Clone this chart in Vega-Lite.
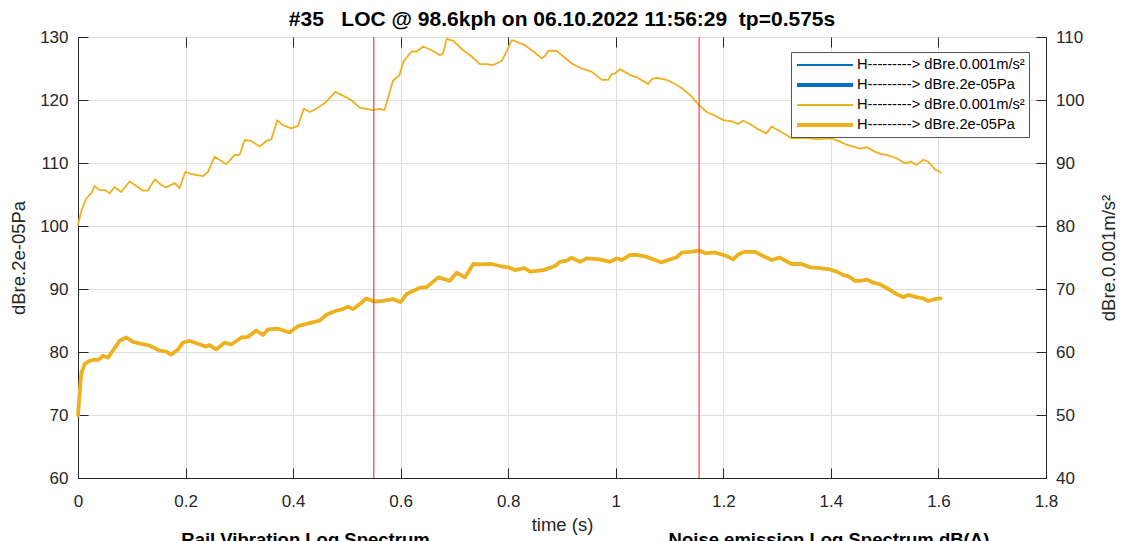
{
  "$schema": "https://vega.github.io/schema/vega-lite/v6.json",
  "width": 968,
  "height": 441,
  "autosize": {"type": "none"},
  "padding": {"left": 78, "top": 37, "right": 78, "bottom": 63},
  "background": "white",
  "title": {
    "text": "#35\u00a0\u00a0\u00a0LOC @ 98.6kph on 06.10.2022 11:56:29\u00a0\u00a0tp=0.575s",
    "font": "Liberation Sans",
    "fontSize": 21,
    "fontWeight": "bold",
    "color": "#000000",
    "anchor": "middle",
    "offset": -2
  },
  "config": {
    "font": "Liberation Sans",
    "view": {"stroke": "#262626", "strokeWidth": 1},
    "axis": {
      "labelFont": "Liberation Sans",
      "labelFontSize": 17,
      "labelColor": "#262626",
      "titleFont": "Liberation Sans",
      "titleFontSize": 18.5,
      "titleFontWeight": "normal",
      "titleColor": "#262626",
      "domainColor": "#262626",
      "tickColor": "#262626",
      "tickWidth": 1,
      "gridColor": "#dedede",
      "gridWidth": 1,
      "labelFlush": false,
      "labelOverlap": false
    }
  },
  "datasets": {
    "thin": [
      {"s":"y1","t":0,"v":80.2},{"s":"y1","t":0.006,"v":82.3},{"s":"y1","t":0.0155,"v":84.4},{"s":"y1","t":0.0248,"v":85.2},{"s":"y1","t":0.031,"v":86.35},{"s":"y1","t":0.04,"v":85.7},{"s":"y1","t":0.0496,"v":85.7},{"s":"y1","t":0.059,"v":85.2},{"s":"y1","t":0.068,"v":86.2},{"s":"y1","t":0.0806,"v":85.4},{"s":"y1","t":0.096,"v":87.1},{"s":"y1","t":0.1085,"v":86.35},{"s":"y1","t":0.121,"v":85.6},{"s":"y1","t":0.13,"v":85.6},{"s":"y1","t":0.1426,"v":87.4},{"s":"y1","t":0.155,"v":86.5},{"s":"y1","t":0.164,"v":86.1},{"s":"y1","t":0.18,"v":86.8},{"s":"y1","t":0.189,"v":86.0},{"s":"y1","t":0.1995,"v":88.6},{"s":"y1","t":0.2107,"v":88.25},{"s":"y1","t":0.2324,"v":87.9},{"s":"y1","t":0.2417,"v":88.6},{"s":"y1","t":0.254,"v":91.0},{"s":"y1","t":0.2758,"v":89.8},{"s":"y1","t":0.2913,"v":91.3},{"s":"y1","t":0.3006,"v":91.3},{"s":"y1","t":0.31,"v":93.65},{"s":"y1","t":0.322,"v":93.5},{"s":"y1","t":0.338,"v":92.6},{"s":"y1","t":0.35,"v":93.5},{"s":"y1","t":0.3595,"v":93.75},{"s":"y1","t":0.3706,"v":96.8},{"s":"y1","t":0.381,"v":96.0},{"s":"y1","t":0.397,"v":95.5},{"s":"y1","t":0.409,"v":95.9},{"s":"y1","t":0.42,"v":98.6},{"s":"y1","t":0.431,"v":98.1},{"s":"y1","t":0.441,"v":98.5},{"s":"y1","t":0.4617,"v":99.7},{"s":"y1","t":0.4785,"v":101.3},{"s":"y1","t":0.4927,"v":100.7},{"s":"y1","t":0.508,"v":100.0},{"s":"y1","t":0.5238,"v":98.8},{"s":"y1","t":0.5485,"v":98.4},{"s":"y1","t":0.561,"v":98.6},{"s":"y1","t":0.57,"v":98.4},{"s":"y1","t":0.5857,"v":103.05},{"s":"y1","t":0.598,"v":104.0},{"s":"y1","t":0.605,"v":106.1},{"s":"y1","t":0.6205,"v":107.7},{"s":"y1","t":0.6298,"v":107.7},{"s":"y1","t":0.642,"v":108.5},{"s":"y1","t":0.6577,"v":107.9},{"s":"y1","t":0.673,"v":107.1},{"s":"y1","t":0.679,"v":107.4},{"s":"y1","t":0.6855,"v":109.7},{"s":"y1","t":0.698,"v":109.4},{"s":"y1","t":0.7164,"v":107.9},{"s":"y1","t":0.732,"v":106.9},{"s":"y1","t":0.7475,"v":105.7},{"s":"y1","t":0.76,"v":105.7},{"s":"y1","t":0.772,"v":105.55},{"s":"y1","t":0.788,"v":106.2},{"s":"y1","t":0.797,"v":107.7},{"s":"y1","t":0.8064,"v":109.5},{"s":"y1","t":0.8157,"v":109.25},{"s":"y1","t":0.831,"v":108.7},{"s":"y1","t":0.8466,"v":107.7},{"s":"y1","t":0.8622,"v":106.6},{"s":"y1","t":0.8696,"v":107.1},{"s":"y1","t":0.8745,"v":107.8},{"s":"y1","t":0.89,"v":107.8},{"s":"y1","t":0.9024,"v":106.9},{"s":"y1","t":0.918,"v":105.8},{"s":"y1","t":0.9366,"v":105.0},{"s":"y1","t":0.955,"v":104.5},{"s":"y1","t":0.9738,"v":103.2},{"s":"y1","t":0.986,"v":103.2},{"s":"y1","t":0.9923,"v":104.1},{"s":"y1","t":0.9985,"v":104.2},{"s":"y1","t":1.008,"v":104.9},{"s":"y1","t":1.026,"v":104.0},{"s":"y1","t":1.039,"v":103.6},{"s":"y1","t":1.0604,"v":102.5},{"s":"y1","t":1.0667,"v":103.3},{"s":"y1","t":1.076,"v":103.5},{"s":"y1","t":1.0946,"v":103.2},{"s":"y1","t":1.107,"v":102.7},{"s":"y1","t":1.1225,"v":101.9},{"s":"y1","t":1.138,"v":100.8},{"s":"y1","t":1.155,"v":99.2},{"s":"y1","t":1.169,"v":98.1},{"s":"y1","t":1.1845,"v":97.5},{"s":"y1","t":1.2,"v":96.8},{"s":"y1","t":1.2185,"v":96.55},{"s":"y1","t":1.2277,"v":96.2},{"s":"y1","t":1.237,"v":96.7},{"s":"y1","t":1.2495,"v":96.2},{"s":"y1","t":1.262,"v":95.5},{"s":"y1","t":1.28,"v":94.7},{"s":"y1","t":1.2898,"v":95.8},{"s":"y1","t":1.302,"v":95.2},{"s":"y1","t":1.318,"v":94.4},{"s":"y1","t":1.327,"v":93.9},{"s":"y1","t":1.35,"v":94.0},{"s":"y1","t":1.375,"v":93.8},{"s":"y1","t":1.4014,"v":93.9},{"s":"y1","t":1.417,"v":93.4},{"s":"y1","t":1.429,"v":92.9},{"s":"y1","t":1.4416,"v":92.6},{"s":"y1","t":1.454,"v":92.3},{"s":"y1","t":1.4666,"v":92.5},{"s":"y1","t":1.482,"v":91.8},{"s":"y1","t":1.494,"v":91.4},{"s":"y1","t":1.5037,"v":91.3},{"s":"y1","t":1.522,"v":90.75},{"s":"y1","t":1.5377,"v":89.95},{"s":"y1","t":1.55,"v":90.2},{"s":"y1","t":1.559,"v":89.7},{"s":"y1","t":1.572,"v":90.5},{"s":"y1","t":1.581,"v":90.2},{"s":"y1","t":1.5935,"v":89.0},{"s":"y1","t":1.604,"v":88.5}
    ],
    "thick": [
      {"s":"y2","t":0,"v":70.0},{"s":"y2","t":0.003,"v":73.4},{"s":"y2","t":0.006,"v":76.6},{"s":"y2","t":0.0124,"v":78.1},{"s":"y2","t":0.0217,"v":78.6},{"s":"y2","t":0.031,"v":78.8},{"s":"y2","t":0.0372,"v":78.7},{"s":"y2","t":0.0465,"v":79.4},{"s":"y2","t":0.0558,"v":79.1},{"s":"y2","t":0.068,"v":80.6},{"s":"y2","t":0.0775,"v":81.8},{"s":"y2","t":0.0899,"v":82.3},{"s":"y2","t":0.1023,"v":81.6},{"s":"y2","t":0.1178,"v":81.3},{"s":"y2","t":0.1333,"v":81.0},{"s":"y2","t":0.152,"v":80.2},{"s":"y2","t":0.164,"v":80.05},{"s":"y2","t":0.1735,"v":79.6},{"s":"y2","t":0.186,"v":80.4},{"s":"y2","t":0.195,"v":81.5},{"s":"y2","t":0.2077,"v":81.75},{"s":"y2","t":0.223,"v":81.3},{"s":"y2","t":0.2386,"v":80.85},{"s":"y2","t":0.2448,"v":81.1},{"s":"y2","t":0.257,"v":80.4},{"s":"y2","t":0.2727,"v":81.5},{"s":"y2","t":0.285,"v":81.2},{"s":"y2","t":0.3037,"v":82.3},{"s":"y2","t":0.316,"v":82.4},{"s":"y2","t":0.3316,"v":83.4},{"s":"y2","t":0.3441,"v":82.7},{"s":"y2","t":0.3534,"v":83.6},{"s":"y2","t":0.372,"v":83.7},{"s":"y2","t":0.3936,"v":83.1},{"s":"y2","t":0.409,"v":84.1},{"s":"y2","t":0.434,"v":84.65},{"s":"y2","t":0.4494,"v":84.97},{"s":"y2","t":0.4617,"v":85.9},{"s":"y2","t":0.48,"v":86.55},{"s":"y2","t":0.4927,"v":86.8},{"s":"y2","t":0.502,"v":87.2},{"s":"y2","t":0.5113,"v":86.8},{"s":"y2","t":0.5238,"v":87.6},{"s":"y2","t":0.536,"v":88.5},{"s":"y2","t":0.5517,"v":88.0},{"s":"y2","t":0.567,"v":88.1},{"s":"y2","t":0.5857,"v":88.4},{"s":"y2","t":0.6,"v":87.9},{"s":"y2","t":0.611,"v":89.2},{"s":"y2","t":0.636,"v":90.2},{"s":"y2","t":0.6484,"v":90.3},{"s":"y2","t":0.67,"v":91.85},{"s":"y2","t":0.6917,"v":91.3},{"s":"y2","t":0.704,"v":92.6},{"s":"y2","t":0.7196,"v":91.85},{"s":"y2","t":0.735,"v":93.97},{"s":"y2","t":0.7475,"v":93.9},{"s":"y2","t":0.769,"v":93.97},{"s":"y2","t":0.7847,"v":93.65},{"s":"y2","t":0.8,"v":93.44},{"s":"y2","t":0.8126,"v":93.0},{"s":"y2","t":0.831,"v":93.3},{"s":"y2","t":0.8405,"v":92.75},{"s":"y2","t":0.8652,"v":93.0},{"s":"y2","t":0.887,"v":93.65},{"s":"y2","t":0.896,"v":94.3},{"s":"y2","t":0.9087,"v":94.5},{"s":"y2","t":0.918,"v":94.97},{"s":"y2","t":0.9334,"v":94.3},{"s":"y2","t":0.946,"v":94.87},{"s":"y2","t":0.9706,"v":94.7},{"s":"y2","t":0.989,"v":94.3},{"s":"y2","t":1.0017,"v":94.87},{"s":"y2","t":1.011,"v":94.6},{"s":"y2","t":1.0264,"v":95.4},{"s":"y2","t":1.039,"v":95.4},{"s":"y2","t":1.0574,"v":95.1},{"s":"y2","t":1.073,"v":94.6},{"s":"y2","t":1.085,"v":94.2},{"s":"y2","t":1.1008,"v":94.7},{"s":"y2","t":1.113,"v":95.0},{"s":"y2","t":1.1225,"v":95.76},{"s":"y2","t":1.138,"v":95.9},{"s":"y2","t":1.155,"v":96.1},{"s":"y2","t":1.166,"v":95.67},{"s":"y2","t":1.1845,"v":95.8},{"s":"y2","t":1.2,"v":95.4},{"s":"y2","t":1.206,"v":95.24},{"s":"y2","t":1.2185,"v":94.7},{"s":"y2","t":1.2277,"v":95.5},{"s":"y2","t":1.24,"v":95.9},{"s":"y2","t":1.2589,"v":95.9},{"s":"y2","t":1.274,"v":95.24},{"s":"y2","t":1.2898,"v":94.6},{"s":"y2","t":1.305,"v":94.97},{"s":"y2","t":1.327,"v":93.97},{"s":"y2","t":1.3456,"v":93.97},{"s":"y2","t":1.361,"v":93.44},{"s":"y2","t":1.38,"v":93.3},{"s":"y2","t":1.398,"v":93.1},{"s":"y2","t":1.4107,"v":92.75},{"s":"y2","t":1.423,"v":92.2},{"s":"y2","t":1.432,"v":92.06},{"s":"y2","t":1.445,"v":91.3},{"s":"y2","t":1.454,"v":91.3},{"s":"y2","t":1.4666,"v":91.5},{"s":"y2","t":1.479,"v":91.0},{"s":"y2","t":1.491,"v":90.75},{"s":"y2","t":1.51,"v":89.84},{"s":"y2","t":1.522,"v":89.2},{"s":"y2","t":1.5346,"v":88.7},{"s":"y2","t":1.544,"v":89.05},{"s":"y2","t":1.559,"v":88.7},{"s":"y2","t":1.572,"v":88.5},{"s":"y2","t":1.581,"v":88.1},{"s":"y2","t":1.5935,"v":88.4},{"s":"y2","t":1.604,"v":88.5}
    ],
    "markers": [{"t": 0.55}, {"t": 1.155}],
    "subtitles": [
      {"label": "Rail Vibration Log Spectrum", "t": 0.423, "v": 49.2},
      {"label": "Noise emission Log Spectrum dB(A)", "t": 1.3964, "v": 49.2}
    ]
  },
  "layer": [
    {
      "data": {"name": "thick"},
      "mark": {"type": "line", "strokeJoin": "round", "strokeCap": "round"},
      "encoding": {
        "x": {
          "field": "t", "type": "quantitative",
          "scale": {"domain": [0, 1.8], "nice": false, "zero": false},
          "axis": {
            "orient": "bottom", "title": "time (s)",
            "values": [0, 0.2, 0.4, 0.6, 0.8, 1, 1.2, 1.4, 1.6, 1.8],
            "format": "~g", "grid": true, "tickSize": -10, "labelPadding": 25,
            "titleY": 46, "titleBaseline": "middle"
          }
        },
        "y": {
          "field": "v", "type": "quantitative",
          "scale": {"domain": [60, 130], "nice": false, "zero": false},
          "axis": {
            "orient": "left", "title": "dBre.2e-05Pa",
            "values": [60, 70, 80, 90, 100, 110, 120, 130],
            "grid": true, "tickSize": -10, "labelPadding": 20,
            "titleX": -60, "titleBaseline": "middle"
          }
        },
        "color": {
          "field": "s", "type": "nominal",
          "scale": {"domain": ["b1", "b2", "y1", "y2"], "range": ["#0072BD", "#0072BD", "#EDB120", "#EDB120"]},
          "legend": {
            "orient": "none", "legendX": 713, "legendY": 15, "title": null,
            "labelExpr": "(datum.value == 'b1' || datum.value == 'y1') ? 'H---------> dBre.0.001m/s²' : 'H---------> dBre.2e-05Pa'",
            "labelFont": "Liberation Sans", "labelFontSize": 14.7, "labelColor": "#000000", "labelLimit": 400,
            "symbolType": "M-1,0H6", "symbolSize": 256, "symbolFillColor": "transparent", "labelOffset": 42,
            "padding": 4, "rowPadding": 3, "fillColor": "#ffffff", "strokeColor": "#555555"
          }
        },
        "strokeWidth": {
          "field": "s", "type": "nominal",
          "scale": {"type": "ordinal", "domain": ["b1", "b2", "y1", "y2"], "range": [1.8, 3.8, 1.8, 3.8]},
          "legend": {
            "orient": "none", "legendX": 713, "legendY": 15, "title": null,
            "labelExpr": "(datum.value == 'b1' || datum.value == 'y1') ? 'H---------> dBre.0.001m/s²' : 'H---------> dBre.2e-05Pa'",
            "labelFont": "Liberation Sans", "labelFontSize": 14.7, "labelColor": "#000000", "labelLimit": 400,
            "symbolType": "M-1,0H6", "symbolSize": 256, "symbolFillColor": "transparent", "labelOffset": 42,
            "padding": 4, "rowPadding": 3, "fillColor": "#ffffff", "strokeColor": "#555555"
          }
        }
      }
    },
    {
      "data": {"name": "thin"},
      "mark": {"type": "line", "strokeJoin": "round", "strokeCap": "round"},
      "encoding": {
        "x": {
          "field": "t", "type": "quantitative",
          "scale": {"domain": [0, 1.8], "nice": false, "zero": false},
          "axis": {
            "orient": "top", "title": null, "labels": false, "domain": false,
            "values": [0, 0.2, 0.4, 0.6, 0.8, 1, 1.2, 1.4, 1.6, 1.8],
            "grid": false, "tickSize": -10
          }
        },
        "y": {
          "field": "v", "type": "quantitative",
          "scale": {"domain": [40, 110], "nice": false, "zero": false},
          "axis": {
            "orient": "right", "title": "dBre.0.001m/s²",
            "values": [40, 50, 60, 70, 80, 90, 100, 110],
            "grid": false, "tickSize": -10, "labelPadding": 19.5,
            "titleAngle": -90, "titleX": 62, "titleBaseline": "middle"
          }
        },
        "color": {
          "field": "s", "type": "nominal",
          "scale": {"domain": ["b1", "b2", "y1", "y2"], "range": ["#0072BD", "#0072BD", "#EDB120", "#EDB120"]},
          "legend": {
            "orient": "none", "legendX": 713, "legendY": 15, "title": null,
            "labelExpr": "(datum.value == 'b1' || datum.value == 'y1') ? 'H---------> dBre.0.001m/s²' : 'H---------> dBre.2e-05Pa'",
            "labelFont": "Liberation Sans", "labelFontSize": 14.7, "labelColor": "#000000", "labelLimit": 400,
            "symbolType": "M-1,0H6", "symbolSize": 256, "symbolFillColor": "transparent", "labelOffset": 42,
            "padding": 4, "rowPadding": 3, "fillColor": "#ffffff", "strokeColor": "#555555"
          }
        },
        "strokeWidth": {
          "field": "s", "type": "nominal",
          "scale": {"type": "ordinal", "domain": ["b1", "b2", "y1", "y2"], "range": [1.8, 3.8, 1.8, 3.8]},
          "legend": {
            "orient": "none", "legendX": 713, "legendY": 15, "title": null,
            "labelExpr": "(datum.value == 'b1' || datum.value == 'y1') ? 'H---------> dBre.0.001m/s²' : 'H---------> dBre.2e-05Pa'",
            "labelFont": "Liberation Sans", "labelFontSize": 14.7, "labelColor": "#000000", "labelLimit": 400,
            "symbolType": "M-1,0H6", "symbolSize": 256, "symbolFillColor": "transparent", "labelOffset": 42,
            "padding": 4, "rowPadding": 3, "fillColor": "#ffffff", "strokeColor": "#555555"
          }
        }
      }
    },
    {
      "data": {"name": "markers"},
      "mark": {"type": "rule", "color": "#ff3b3b", "strokeWidth": 1.2},
      "encoding": {
        "x": {"field": "t", "type": "quantitative", "scale": {"domain": [0, 1.8], "nice": false, "zero": false}, "axis": null}
      }
    },
    {
      "data": {"name": "subtitles"},
      "mark": {"type": "text", "font": "Liberation Sans", "fontSize": 18.5, "fontWeight": "bold", "align": "center", "baseline": "alphabetic", "color": "#000000"},
      "encoding": {
        "x": {"field": "t", "type": "quantitative", "scale": {"domain": [0, 1.8], "nice": false, "zero": false}, "axis": null},
        "y": {"field": "v", "type": "quantitative", "scale": {"domain": [60, 130], "nice": false, "zero": false}, "axis": null},
        "text": {"field": "label", "type": "nominal"}
      }
    }
  ],
  "resolve": {
    "scale": {"y": "independent"},
    "axis": {"x": "independent", "y": "independent"}
  }
}
